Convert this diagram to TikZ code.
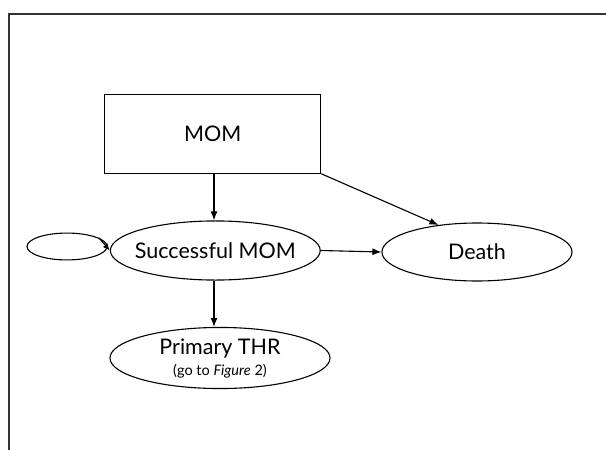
\documentclass[tikz,border=0pt]{standalone}
\usepackage{fontspec}
\setmainfont{Lato}
\usetikzlibrary{shapes.geometric,arrows.meta}
\begin{document}
\begin{tikzpicture}[x=1pt,y=-1pt,
  every node/.style={font=\fontsize{21.5}{24}\selectfont},
  % empty ellipse whose radii are sqrt(2) times the inner separations
  state/.style 2 args={draw,ellipse,line width=1.1pt,inner xsep=#1,inner ysep=#2},
  boxnode/.style={draw,rectangle,line width=1.1pt,inner sep=0pt},
  arr/.style={line width=1.1pt,-{Latex[length=9pt,width=7pt]}},
  frameline/.style={line width=2.2pt,draw=black!80}]
\useasboundingbox (0,0) rectangle (606,450);
% page frame
\draw[frameline] (9,450) -- (9,14) -- (606,14);
% states
\node[boxnode,minimum width=216pt,minimum height=79pt] (mom) at (212.7,133.7) {MOM};
\node[state={74.2pt}{20.9pt},label=center:{Successful MOM}] (succ) at (215.3,250.5) {};
\node[state={67.2pt}{20.5pt},label=center:{Death}] (death) at (477,252) {};
\node[state={77.8pt}{21.6pt},label={[align=center]center:Primary THR\\[-3pt]{\fontsize{14.5}{15}\selectfont (go to \textit{Figure} 2)}}] (thr) at (220,358) {};
\node[state={28.3pt}{9.5pt}] (loop) at (67,246.5) {};
% transitions
\draw[arr] (mom.south -| 214,0) -- (succ.north -| 214,0);
\draw[arr] (mom.south east) -- (death.145);
\draw[arr] (succ.east) -- (death.west);
\draw[arr] (succ.south -| 214,0) -- (thr.north -| 214,0);
\draw[line width=1.1pt,-{Latex[length=7pt,width=6pt]}] (loop.15) -- (succ.west);
\end{tikzpicture}
\end{document}
